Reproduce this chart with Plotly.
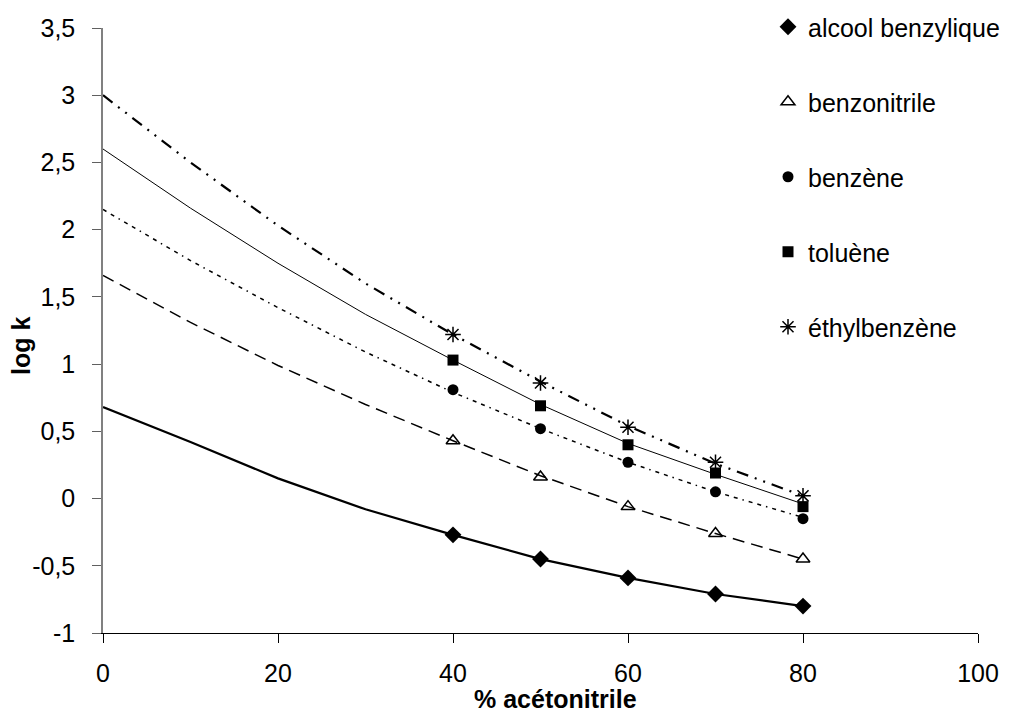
import plotly.graph_objects as go

# ---- data ----
pct_points = [40, 50, 60, 70, 80]
pct_fit = [0, 10, 20, 30, 40, 50, 60, 70, 80]

names = ["alcool benzylique", "benzonitrile", "benzène", "toluène", "éthylbenzène"]

alcool_pts = [-0.27, -0.45, -0.59, -0.71, -0.80]
benzonitrile_pts = [0.43, 0.16, -0.06, -0.26, -0.45]
benzene_pts = [0.81, 0.52, 0.27, 0.05, -0.15]
toluene_pts = [1.03, 0.69, 0.40, 0.19, -0.06]
ethyl_pts = [1.22, 0.86, 0.53, 0.27, 0.02]

alcool_fit = [0.68, 0.42, 0.15, -0.08, -0.27, -0.45, -0.59, -0.71, -0.80]
benzonitrile_fit = [1.66, 1.31, 0.99, 0.70, 0.43, 0.17, -0.06, -0.26, -0.45]
benzene_fit = [2.15, 1.77, 1.42, 1.09, 0.79, 0.52, 0.27, 0.05, -0.14]
toluene_fit = [2.60, 2.16, 1.75, 1.37, 1.03, 0.70, 0.41, 0.18, -0.04]
ethyl_fit = [3.00, 2.50, 2.03, 1.60, 1.22, 0.87, 0.54, 0.26, 0.02]

x_ticks = [0, 20, 40, 60, 80, 100]
y_ticks = [-1, -0.5, 0, 0.5, 1, 1.5, 2, 2.5, 3, 3.5]
y_tick_labels = ["-1", "-0,5", "0", "0,5", "1", "1,5", "2", "2,5", "3", "3,5"]

points = [alcool_pts, benzonitrile_pts, benzene_pts, toluene_pts, ethyl_pts]
fits = [alcool_fit, benzonitrile_fit, benzene_fit, toluene_fit, ethyl_fit]

# ---- styles ----
line_styles = [
    dict(color="black", width=2.2, dash="solid"),
    dict(color="black", width=1.5, dash="12px,7px"),
    dict(color="black", width=1.5, dash="4px,5px,4px,5px,1.5px,5px"),
    dict(color="black", width=1, dash="solid"),
    dict(color="black", width=2.2, dash="12px,7px,2px,7px,2px,7px"),
]
markers = [
    dict(symbol="diamond", size=13, color="black"),
    dict(symbol="triangle-up-open", size=12, color="black", line=dict(width=1.5, color="black")),
    dict(symbol="circle", size=11, color="black"),
    dict(symbol="square", size=11, color="black"),
    dict(symbol="asterisk-open", size=13, color="black", line=dict(width=1.5, color="black")),
]

FONT = "Liberation Sans, Arial, sans-serif"
fig = go.Figure()

for i in range(5):
    fig.add_trace(go.Scatter(
        x=pct_fit, y=fits[i], mode="lines", line=line_styles[i],
        showlegend=False, hoverinfo="skip",
    ))
for i in range(5):
    fig.add_trace(go.Scatter(
        x=pct_points, y=points[i], mode="markers", marker=markers[i],
        name=names[i], legendgroup=f"g{i}",
    ))

# page body has an 8px margin: figure is drawn from (8, 8)
OFF = 8
W, H = 1014 - OFF, 713 - OFF
L, R, T, B = 103 - OFF, 36, 28 - OFF, 80
pw = W - L - R
ph = H - T - B


def px_x(x):  # page pixel -> paper x
    return (x - OFF - L) / pw


def px_y(y):  # page pixel -> paper y
    return (T + ph - (y - OFF)) / ph


fig.update_layout(
    width=W, height=H,
    margin=dict(l=L, r=R, t=T, b=B, autoexpand=False),
    paper_bgcolor="white", plot_bgcolor="white",
    separators=", ",
    font=dict(family=FONT, size=25, color="black"),
    showlegend=True,
    legend=dict(
        x=px_x(768), y=px_y(4), xanchor="left", yanchor="top",
        bgcolor="rgba(0,0,0,0)", font=dict(size=25, family=FONT),
        tracegroupgap=39.5, itemsizing="trace",
    ),
    xaxis=dict(
        range=[0, 100], tickvals=x_ticks, showgrid=False, zeroline=False,
        showline=True, linecolor="black", linewidth=1.3,
        ticks="outside", ticklen=9, tickcolor="black", tickwidth=1.3,
        tickfont=dict(size=25), ticklabelstandoff=9,
    ),
    yaxis=dict(
        range=[-1, 3.5], tickvals=y_ticks, ticktext=y_tick_labels,
        showgrid=False, zeroline=False,
        showline=True, linecolor="#808080", linewidth=1.5,
        ticks="outside", ticklen=9, tickcolor="#606060", tickwidth=1.3,
        tickfont=dict(size=25), ticklabelstandoff=12,
    ),
    annotations=[
        dict(text="<b>% acétonitrile</b>", xref="paper", yref="paper",
             x=px_x(555), y=px_y(699), xanchor="center", yanchor="middle",
             showarrow=False, font=dict(size=25, family=FONT)),
        dict(text="<b>log k</b>", xref="paper", yref="paper",
             x=px_x(21), y=px_y(346), xanchor="center", yanchor="middle",
             textangle=-90, showarrow=False, font=dict(size=25, family=FONT)),
    ],
)

fig.write_html("out.html")
